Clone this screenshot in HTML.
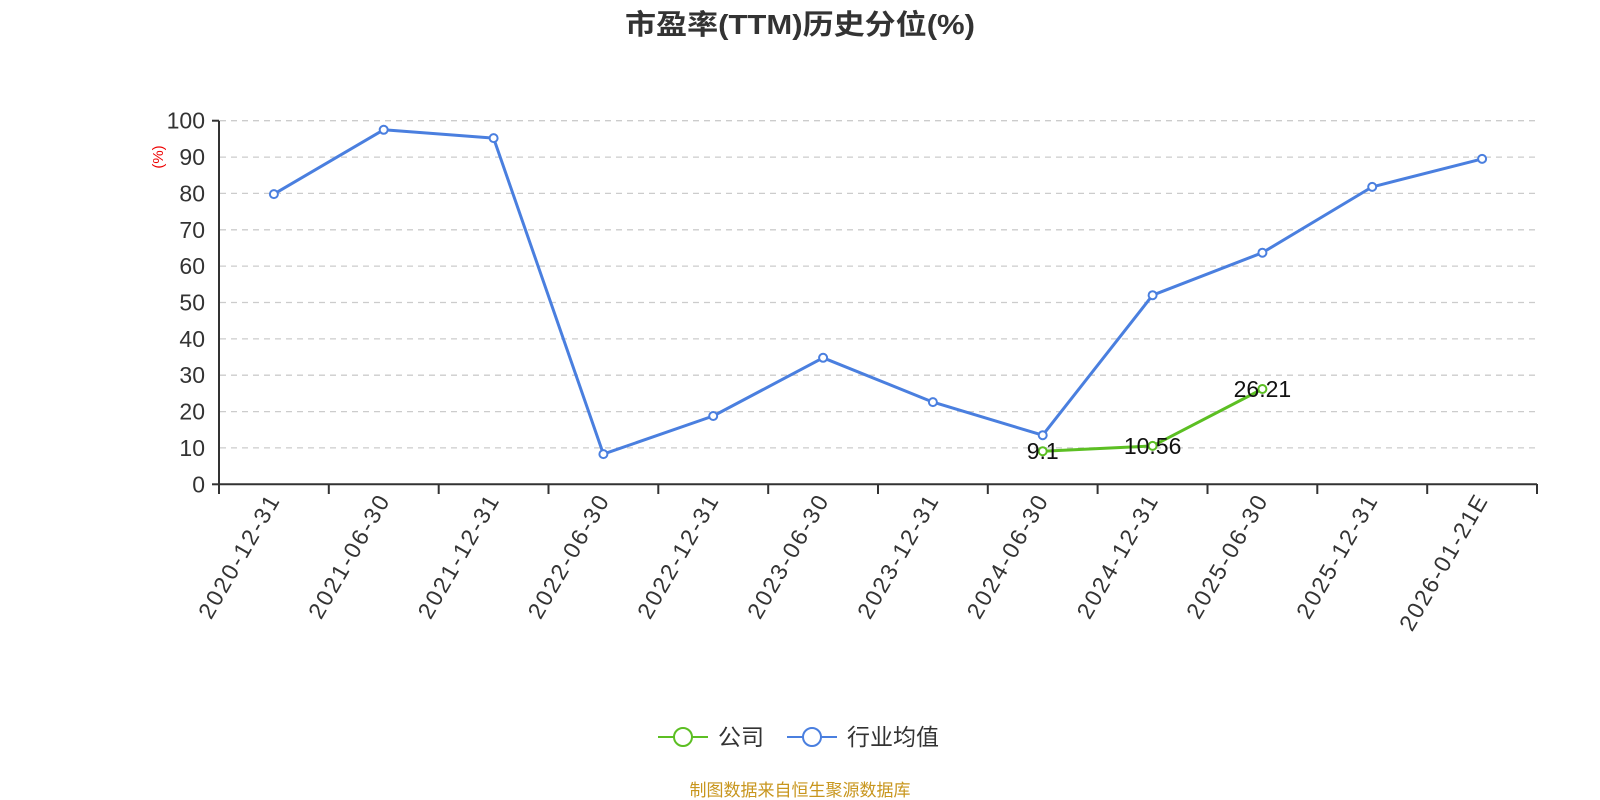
<!DOCTYPE html>
<html><head><meta charset="utf-8"><style>
html,body{margin:0;padding:0;background:#fff;}
svg{display:block;font-family:"Liberation Sans","Noto Sans CJK SC",sans-serif;}
</style></head><body>
<svg width="1600" height="800" viewBox="0 0 1600 800" xmlns="http://www.w3.org/2000/svg">
<text x="800" y="34" text-anchor="middle" font-size="28" font-weight="bold" fill="#333" textLength="350" lengthAdjust="spacingAndGlyphs">市盈率(TTM)历史分位(%)</text>
<g stroke="#ccc" stroke-width="1.3" stroke-dasharray="6,5">
<line x1="220" x2="1537" y1="120.7" y2="120.7"/>
<line x1="220" x2="1537" y1="157.1" y2="157.1"/>
<line x1="220" x2="1537" y1="193.4" y2="193.4"/>
<line x1="220" x2="1537" y1="229.8" y2="229.8"/>
<line x1="220" x2="1537" y1="266.1" y2="266.1"/>
<line x1="220" x2="1537" y1="302.5" y2="302.5"/>
<line x1="220" x2="1537" y1="338.9" y2="338.9"/>
<line x1="220" x2="1537" y1="375.2" y2="375.2"/>
<line x1="220" x2="1537" y1="411.6" y2="411.6"/>
<line x1="220" x2="1537" y1="447.9" y2="447.9"/>
</g>
<g fill="#333" font-size="23" text-anchor="end">
<text x="205" y="128.7">100</text><text x="205" y="165.1">90</text><text x="205" y="201.4">80</text>
<text x="205" y="237.8">70</text><text x="205" y="274.1">60</text><text x="205" y="310.5">50</text>
<text x="205" y="346.9">40</text><text x="205" y="383.2">30</text><text x="205" y="419.6">20</text>
<text x="205" y="455.9">10</text><text x="205" y="492.3">0</text>
</g>
<text transform="translate(163,157) rotate(-90)" text-anchor="middle" font-size="15" fill="#e00">(%)</text>
<g stroke="#333" stroke-width="2" fill="none">
<line x1="219" y1="120.7" x2="219" y2="484.3"/>
<line x1="212" y1="484.3" x2="219" y2="484.3"/>
<line x1="212" y1="120.7" x2="219" y2="120.7"/>
<line x1="219" y1="484.3" x2="1537" y2="484.3"/>
</g>
<g stroke="#333" stroke-width="2">
<line x1="219" x2="219" y1="484" y2="494"/><line x1="328.8" x2="328.8" y1="484" y2="494"/>
<line x1="438.7" x2="438.7" y1="484" y2="494"/><line x1="548.5" x2="548.5" y1="484" y2="494"/>
<line x1="658.3" x2="658.3" y1="484" y2="494"/><line x1="768.2" x2="768.2" y1="484" y2="494"/>
<line x1="878" x2="878" y1="484" y2="494"/><line x1="987.8" x2="987.8" y1="484" y2="494"/>
<line x1="1097.6" x2="1097.6" y1="484" y2="494"/><line x1="1207.5" x2="1207.5" y1="484" y2="494"/>
<line x1="1317.3" x2="1317.3" y1="484" y2="494"/><line x1="1427.2" x2="1427.2" y1="484" y2="494"/>
<line x1="1537" x2="1537" y1="484" y2="494"/>
</g>
<g fill="#333" font-size="23" text-anchor="end">
<text transform="translate(280,501) rotate(-60)" textLength="138">2020-12-31</text>
<text transform="translate(390,501) rotate(-60)" textLength="138">2021-06-30</text>
<text transform="translate(499.5,501) rotate(-60)" textLength="138">2021-12-31</text>
<text transform="translate(609.5,501) rotate(-60)" textLength="138">2022-06-30</text>
<text transform="translate(719,501) rotate(-60)" textLength="138">2022-12-31</text>
<text transform="translate(829,501) rotate(-60)" textLength="138">2023-06-30</text>
<text transform="translate(939,501) rotate(-60)" textLength="138">2023-12-31</text>
<text transform="translate(1048.5,501) rotate(-60)" textLength="138">2024-06-30</text>
<text transform="translate(1158.5,501) rotate(-60)" textLength="138">2024-12-31</text>
<text transform="translate(1268,501) rotate(-60)" textLength="138">2025-06-30</text>
<text transform="translate(1378,501) rotate(-60)" textLength="138">2025-12-31</text>
<text transform="translate(1488,501) rotate(-60)" textLength="152">2026-01-21E</text>
</g>
<polyline fill="none" stroke="#4a7fdf" stroke-width="3" stroke-linejoin="round"
points="273.9,194.1 383.7,129.8 493.6,138.1 603.4,454.1 713.2,416.0 823.1,357.8 932.9,402.1 1042.7,435.2 1152.6,295.2 1262.4,252.7 1372.2,186.9 1482.1,158.9"/>
<g fill="#fff" stroke="#4a7fdf" stroke-width="2">
<circle cx="273.9" cy="194.1" r="4"/><circle cx="383.7" cy="129.8" r="4"/><circle cx="493.6" cy="138.1" r="4"/>
<circle cx="603.4" cy="454.1" r="4"/><circle cx="713.2" cy="416.0" r="4"/><circle cx="823.1" cy="357.8" r="4"/>
<circle cx="932.9" cy="402.1" r="4"/><circle cx="1042.7" cy="435.2" r="4"/><circle cx="1152.6" cy="295.2" r="4"/>
<circle cx="1262.4" cy="252.7" r="4"/><circle cx="1372.2" cy="186.9" r="4"/><circle cx="1482.1" cy="158.9" r="4"/>
</g>
<polyline fill="none" stroke="#5cbf23" stroke-width="3" points="1042.7,451.2 1152.6,445.9 1262.4,389.0"/>
<g fill="#fff" stroke="#5cbf23" stroke-width="2">
<circle cx="1042.7" cy="451.2" r="4"/><circle cx="1152.6" cy="445.9" r="4"/><circle cx="1262.4" cy="389.0" r="4"/>
</g>
<g fill="#111" font-size="23" text-anchor="middle">
<text x="1042.7" y="459">9.1</text><text x="1152.6" y="454">10.56</text><text x="1262.4" y="397">26.21</text>
</g>
<line x1="658" y1="737" x2="708" y2="737" stroke="#5cbf23" stroke-width="2"/>
<circle cx="683" cy="737" r="9" fill="#fff" stroke="#5cbf23" stroke-width="2"/>
<text x="718" y="745" font-size="23" fill="#333">公司</text>
<line x1="787" y1="737" x2="837" y2="737" stroke="#4a7fdf" stroke-width="2"/>
<circle cx="812" cy="737" r="9" fill="#fff" stroke="#4a7fdf" stroke-width="2"/>
<text x="847" y="745" font-size="23" fill="#333">行业均值</text>
<text x="800" y="796" text-anchor="middle" font-size="17" fill="#c8961e">制图数据来自恒生聚源数据库</text>
</svg>
</body></html>
